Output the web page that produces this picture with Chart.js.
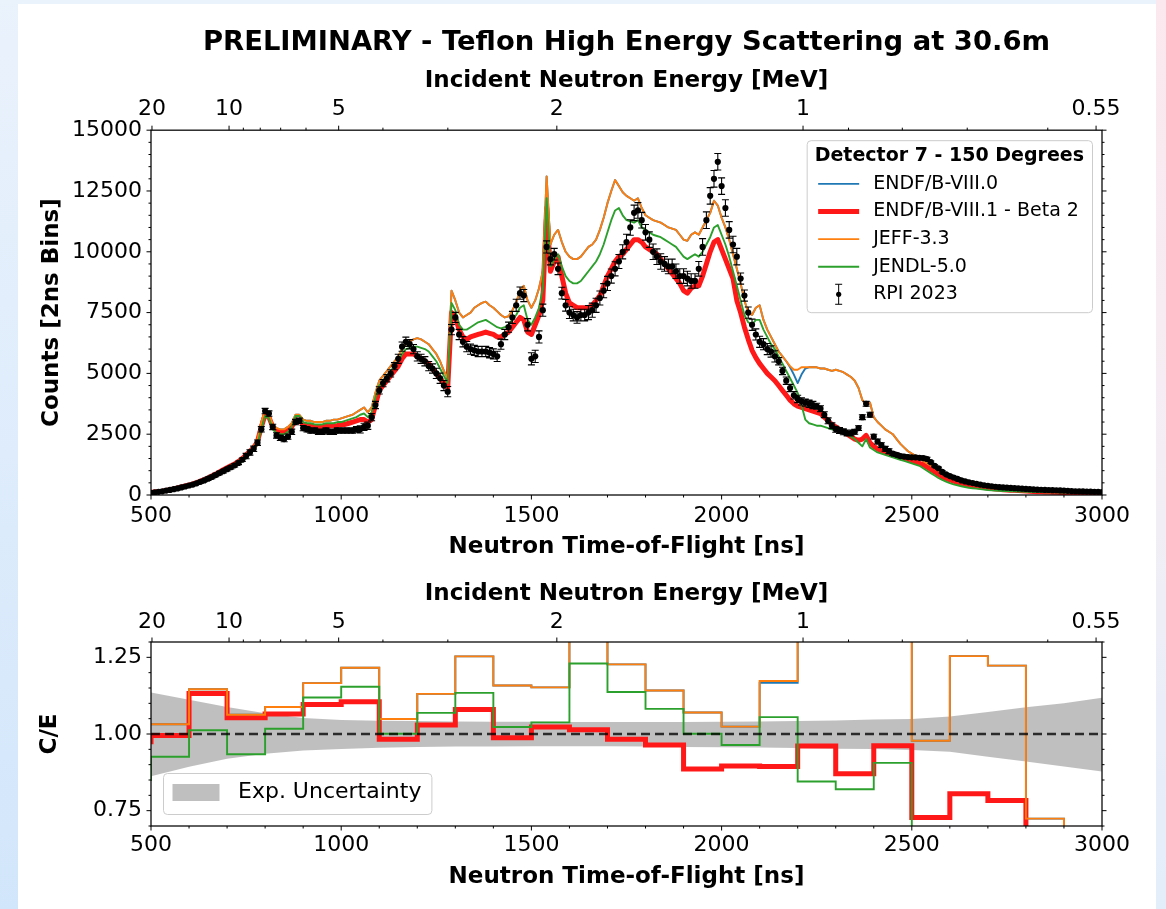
<!DOCTYPE html>
<html>
<head>
<meta charset="utf-8">
<title>Teflon High Energy Scattering at 30.6m</title>
<script src="https://cdn.jsdelivr.net/npm/chart.js@4.4.1/dist/chart.umd.min.js"></script>
<style>
  html, body { margin: 0; padding: 0; }
  body {
    width: 1166px; height: 909px; position: relative; overflow: hidden;
    background: linear-gradient(to bottom, #eaf2fc 0%, #d2e6fb 100%);
  }
  #edgeRight {
    position: absolute; left: 1156px; top: 0; width: 10px; height: 909px;
    background: linear-gradient(to bottom, #fbe8ee 0%, #f4eef4 50%, #e3eefb 100%);
  }
  #sheet { position: absolute; left: 18px; top: 4px; width: 1138px; height: 905px; background: #fff; }
  #countsChart { position: absolute; left: 0; top: 0; }
  #ratioChart { position: absolute; left: 0; top: 570px; }
</style>
</head>
<body>
<div id="edgeRight"></div>
<div id="sheet"></div>
<canvas id="countsChart" width="1166" height="570"></canvas>
<canvas id="ratioChart" width="1166" height="339"></canvas>
<script>
// ---------------------------------------------------------------
// Time-of-flight grid (ns) shared by the measured and calculated spectra
// ---------------------------------------------------------------
const tof = Array.from({ length: 251 }, (_, i) => 500 + 10 * i);

// RPI 2023 measured counts (2 ns bins), sampled every 10 ns
const rpi2023 = [
  90,110,130,150,180,210,240,270,310,350,
  390,430,480,540,600,670,740,820,900,980,
  1060,1140,1220,1320,1450,1600,1750,1900,2150,2700,
  3450,3350,2800,2450,2350,2300,2400,2600,3000,3050,
  2750,2700,2650,2650,2600,2600,2650,2600,2600,2650,
  2650,2650,2650,2650,2700,2700,2800,2850,3200,3700,
  4300,4600,4800,5000,5300,5600,6100,6300,6200,6000,
  5700,5600,5500,5300,5200,5000,4800,4500,4250,6800,
  7300,6600,6300,6100,6000,5950,5900,5900,5900,5850,
  5800,5700,6200,6600,6900,7300,7800,8300,8200,7000,
  5600,5700,6500,7600,10200,9700,9900,9300,8300,7800,
  7500,7400,7300,7400,7400,7500,7600,7800,8100,8400,
  8700,9000,9300,9600,10000,10400,11000,11600,11700,11300,
  10800,10500,10000,9800,9600,9500,9400,9400,9200,9000,
  9000,8900,8800,8800,9300,10200,11300,12300,13000,13700,
  12700,11800,10900,10300,9800,8900,8200,7500,7000,6600,
  6300,6200,6000,5900,5700,5500,5100,4700,4400,4100,
  3950,3850,3800,3750,3700,3650,3550,3300,3050,2850,
  2700,2650,2600,2550,2550,2600,2750,3200,3750,3300,
  2400,2200,2050,1900,1800,1700,1650,1600,1580,1560,
  1550,1550,1530,1520,1480,1350,1200,1100,950,850,
  780,720,660,600,560,520,490,460,430,400,
  380,360,340,320,310,300,290,280,270,260,
  250,240,230,220,215,210,205,200,195,190,
  180,170,160,155,150,145,140,135,130,125,
  120
];

// Absolute counting uncertainty of the measurement, one value per 100 ns from 500 ns
const rpiErrKnots = [30,50,70,110,110,110,150,190,210,210,250,240,290,320,300,340,230,150,120,100,70,45,30,25,20,20];

// Calculated spectra
const endfb80 = [
  110,130,150,170,200,230,260,300,340,380,
  420,470,520,580,640,710,790,870,960,1050,
  1130,1220,1300,1400,1520,1680,1830,2000,2300,3000,
  3500,3350,2900,2750,2700,2700,2800,2950,3300,3300,
  3100,3050,3050,3000,3000,3000,3050,3050,3100,3100,
  3150,3200,3250,3300,3400,3500,3600,3400,3600,4200,
  4700,4900,5100,5300,5500,5700,6000,6200,6300,6400,
  6450,6400,6300,6200,6000,5800,5500,5100,4800,8400,
  8000,7500,7300,7400,7500,7700,7800,7900,7950,7800,
  7700,7550,7400,7300,7350,7600,7900,8400,8600,8000,
  7700,8000,8500,9200,13100,10300,10700,10900,10400,10000,
  9800,9700,9700,9800,10000,10200,10300,10500,10900,11400,
  12000,12500,12950,12700,12450,12300,12200,12100,12200,11800,
  11500,11400,11300,11250,11200,11100,11000,10950,10900,10700,
  10500,10450,10700,10800,10700,11000,11300,11600,12100,11900,
  11400,11000,10500,9900,9300,8700,8000,7500,7400,7700,
  7800,7200,6800,6500,6200,5900,5700,5500,5250,4950,
  4600,4950,5200,5250,5250,5250,5200,5200,5150,5100,
  5150,5100,5050,4950,4850,4700,4400,3900,3700,3800,
  3200,3000,2850,2700,2600,2500,2300,2100,1950,1800,
  1700,1600,1500,1400,1300,1200,1100,1000,940,880,
  840,780,720,660,610,570,530,490,460,430,
  400,380,360,340,320,300,285,270,255,240,
  230,220,210,200,190,180,175,170,165,160,
  155,150,145,140,135,130,125,120,115,112,
  110
];

const endfb81 = [
  100,120,140,160,190,220,250,290,330,370,
  410,460,510,570,630,700,780,860,950,1040,
  1120,1200,1280,1380,1500,1650,1800,1950,2200,2800,
  3300,3200,2800,2650,2600,2600,2650,2800,3100,3050,
  2900,2850,2850,2800,2800,2800,2850,2850,2850,2850,
  2900,2900,2950,3000,3050,3100,3100,3000,3100,3700,
  4300,4500,4700,4900,5100,5300,5600,5800,5800,5800,
  5700,5600,5500,5400,5200,5000,4800,4600,4400,7500,
  7300,6800,6500,6400,6500,6550,6600,6650,6700,6650,
  6600,6500,6500,6600,6700,6900,7100,7300,7200,6700,
  6600,7000,7400,8000,11800,9200,9600,9800,9000,8300,
  7900,7800,7700,7700,7700,7700,7800,8000,8200,8600,
  9000,9300,9600,9800,9900,10100,10300,10500,10500,10400,
  10200,10100,10000,9900,9700,9500,9300,9100,8900,8700,
  8400,8300,8500,8600,8600,9000,9500,10000,10400,10500,
  10100,9700,9300,8900,8000,7500,6900,6400,5950,5650,
  5400,5200,5000,4850,4700,4500,4300,4100,3900,3750,
  3650,3600,3550,3500,3450,3400,3350,3200,3050,2900,
  2800,2700,2600,2500,2400,2300,2250,2300,2450,2150,
  2000,1900,1800,1750,1700,1650,1600,1550,1500,1450,
  1400,1350,1300,1250,1150,1050,950,850,750,680,
  620,570,520,480,440,410,380,350,330,310,
  290,270,250,235,220,210,200,190,180,170,
  160,150,140,135,130,125,120,115,110,105,
  100,98,96,94,92,90,88,86,84,82,
  80
];

const jeff33 = [
  110,130,150,170,200,230,260,300,340,380,
  420,470,520,580,640,710,790,870,960,1050,
  1130,1220,1300,1400,1520,1680,1830,2000,2300,3000,
  3500,3350,2900,2750,2700,2700,2800,2950,3300,3300,
  3100,3050,3050,3000,3000,3000,3050,3050,3100,3100,
  3150,3200,3250,3300,3400,3500,3600,3400,3600,4200,
  4700,4900,5100,5300,5500,5700,6000,6200,6300,6400,
  6450,6400,6300,6200,6000,5800,5500,5100,4800,8400,
  8000,7500,7300,7400,7500,7700,7800,7900,7950,7800,
  7700,7550,7400,7300,7350,7600,7900,8400,8600,8000,
  7700,8000,8500,9200,13100,10300,10700,10900,10400,10000,
  9800,9700,9700,9800,10000,10200,10300,10500,10900,11400,
  12000,12500,12950,12700,12450,12300,12200,12100,12200,11800,
  11500,11400,11300,11250,11200,11100,11000,10950,10900,10700,
  10500,10450,10700,10800,10700,11000,11300,11600,12100,11900,
  11400,11000,10500,9900,9300,8700,8000,7500,7400,7700,
  7800,7200,6800,6500,6200,5900,5700,5500,5300,5150,
  5150,5250,5250,5250,5250,5250,5200,5200,5150,5100,
  5150,5100,5050,4950,4850,4700,4400,3900,3700,3800,
  3200,3000,2850,2700,2600,2500,2300,2100,1950,1800,
  1700,1600,1500,1400,1300,1200,1100,1000,940,880,
  840,780,720,660,610,570,530,490,460,430,
  400,380,360,340,320,300,285,270,255,240,
  230,220,210,200,190,180,175,170,165,160,
  155,150,145,140,135,130,125,120,115,112,
  110
];

const jendl50 = [
  90,105,125,145,170,200,230,260,300,340,
  380,420,470,520,580,640,710,790,870,950,
  1020,1100,1180,1270,1380,1520,1680,1850,2100,2700,
  3250,3150,2700,2550,2500,2500,2600,2800,3250,3250,
  3000,2950,2950,2900,2900,2900,2950,2950,2950,3000,
  3000,3050,3100,3150,3200,3300,3350,3200,3400,4000,
  4500,4700,4900,5100,5300,5500,5800,6000,6050,6100,
  6100,6050,6000,5900,5700,5500,5200,4900,4600,7900,
  7600,7000,6800,6800,6900,7000,7100,7150,7200,7100,
  7000,6900,6850,6900,7000,7200,7400,7700,7800,7200,
  7000,7300,7700,8500,12200,9400,9700,9900,9400,9000,
  8800,8700,8700,8800,9000,9200,9400,9600,9900,10300,
  10800,11300,11700,11800,11500,11300,11250,11200,11300,11000,
  10900,10800,10700,10650,10600,10500,10400,10300,10200,10000,
  9800,9700,9800,9900,9800,10000,10300,10600,11000,11100,
  10700,10300,9800,9200,8600,8000,7400,7100,7000,7200,
  7200,6800,6500,6200,6000,5700,5400,5100,4800,4500,
  4200,3700,3100,2950,2900,2850,2850,2800,2750,2700,
  2650,2600,2550,2500,2400,2300,2150,2000,2300,1950,
  1850,1750,1700,1650,1600,1550,1500,1450,1400,1350,
  1300,1250,1200,1100,1000,900,800,700,620,550,
  490,440,400,360,330,300,280,260,240,220,
  200,190,180,170,165,160,155,150,145,140,
  135,130,125,120,118,115,112,110,108,105,
  102,100,98,97,96,95,94,93,92,91,
  90
];

// ---------------------------------------------------------------
// C/E in 100 ns bins: left bin edges (ns), the last entry closes the final bin
// ---------------------------------------------------------------
const ceEdges = [400,500,600,700,800,900,1000,1100,1200,1300,1400,1500,1600,1700,1800,1900,2000,2100,2200,2300,2400,2500,2600,2700,2800,2900,3000];
const ceEndfb80 = [1.032,1.032,1.146,1.063,1.088,1.166,1.216,1.049,1.131,1.253,1.158,1.152,1.34,1.227,1.142,1.070,1.024,1.167,1.38,1.55,1.36,0.978,1.254,1.223,0.724,0.65];
const ceEndfb81 = [0.975,0.995,1.132,1.053,1.065,1.096,1.105,0.983,1.029,1.080,0.988,1.023,1.014,0.983,0.964,0.886,0.896,0.894,0.961,0.870,0.962,0.728,0.805,0.783,0.62,0.60];
const ceJeff33  = [1.032,1.032,1.146,1.063,1.088,1.166,1.216,1.049,1.131,1.253,1.158,1.152,1.34,1.227,1.142,1.070,1.024,1.173,1.42,1.55,1.36,0.978,1.254,1.223,0.724,0.65];
const ceJendl50 = [0.85,0.926,1.012,0.934,1.017,1.119,1.154,1.001,1.069,1.134,1.023,1.038,1.230,1.137,1.082,1.001,0.964,1.055,0.845,0.820,0.906,0.62,0.60,0.60,0.58,0.58];

// Experimental uncertainty band, one value per 100 ns from 500 to 3000 ns
const bandTof   = [500,600,700,800,900,1000,1100,1200,1300,1400,1500,1600,1700,1800,1900,2000,2100,2200,2300,2400,2500,2600,2700,2800,2900,3000];
const bandUpper = [1.135,1.112,1.088,1.068,1.052,1.046,1.043,1.042,1.041,1.040,1.040,1.039,1.039,1.039,1.039,1.040,1.041,1.042,1.044,1.047,1.049,1.057,1.072,1.087,1.100,1.118];
const bandLower = [0.862,0.893,0.919,0.936,0.946,0.951,0.955,0.958,0.959,0.959,0.960,0.960,0.960,0.959,0.958,0.957,0.956,0.954,0.952,0.951,0.948,0.942,0.926,0.910,0.894,0.878];

// Secondary axis: incident neutron energy (MeV)
const energyMajor = [20, 10, 5, 2, 1, 0.55];
const energyMajorLabels = ['20', '10', '5', '2', '1', '0.55'];
const energyMinor = [9, 8, 7, 6, 4, 3, 0.9, 0.8, 0.7, 0.6];

// ---------------------------------------------------------------
const FLIGHT_PATH_M = 30.6;
const NEUTRON_MASS_MEV = 939.565;
const C_M_PER_NS = 0.299792458;
function tofForEnergy(eMeV) {
  const gamma = 1 + eMeV / NEUTRON_MASS_MEV;
  const beta = Math.sqrt(1 - 1 / (gamma * gamma));
  return FLIGHT_PATH_M / (beta * C_M_PER_NS);
}

const FONT = 'DejaVu Sans';
Chart.defaults.font.family = FONT;
Chart.defaults.color = '#000';

const BLUE = '#1f77b4', RED = 'rgb(255,24,24)', ORANGE = '#ff7f0e', GREEN = '#2ca02c';

const pts = (xs, ys) => xs.map((x, i) => ({ x: x, y: ys[i] }));
const stepPts = (vals) => ceEdges.map((x, i) => ({ x: x, y: vals[Math.min(i, vals.length - 1)] }));

// Frame and tick marks drawn through the chart's own scales
const axisFrame = {
  id: 'axisFrame',
  afterDatasetsDraw(chart, args, o) {
    const { ctx, chartArea: a } = chart;
    const xs = chart.scales.x, ys = chart.scales.y;
    ctx.save();
    ctx.strokeStyle = '#000';
    ctx.lineWidth = 1;
    const seg = (x1, y1, x2, y2) => { ctx.beginPath(); ctx.moveTo(x1, y1); ctx.lineTo(x2, y2); ctx.stroke(); };
    for (let t = xs.min; t <= xs.max + 1e-6; t += o.xMinorStep) {
      const x = xs.getPixelForValue(t);
      const major = Math.abs(t % o.xMajorStep) < 1e-6;
      seg(x, a.bottom, x, a.bottom + (major ? o.majorLen : o.minorLen));
    }
    const n = Math.round((ys.max - ys.min) / o.yMinorStep);
    for (let k = 0; k <= n; k++) {
      const v = ys.min + k * o.yMinorStep;
      const y = ys.getPixelForValue(v);
      const major = o.yMajor.some(m => Math.abs(m - v) < 1e-6);
      const L = major ? o.majorLen : o.minorLen;
      seg(a.left - L, y, a.left, y);
      seg(a.right, y, a.right + L, y);
    }
    const es = chart.scales.energy;
    energyMajor.forEach(e => { const x = es.getPixelForValue(tofForEnergy(e)); seg(x, a.top - o.majorLen, x, a.top); });
    energyMinor.forEach(e => { const x = es.getPixelForValue(tofForEnergy(e)); seg(x, a.top - o.minorLen, x, a.top); });
    ctx.lineWidth = 1.25;
    ctx.strokeRect(a.left, a.top, a.right - a.left, a.bottom - a.top);
    ctx.restore();
  }
};

// Vertical error bars with caps under the measured points
const errorBars = {
  id: 'errorBars',
  beforeDatasetDraw(chart, args, o) {
    if (args.index !== o.datasetIndex) return;
    const { ctx, chartArea: a } = chart;
    const xs = chart.scales.x, ys = chart.scales.y;
    ctx.save();
    ctx.beginPath();
    ctx.rect(a.left, a.top, a.right - a.left, a.bottom - a.top);
    ctx.clip();
    ctx.strokeStyle = '#000';
    ctx.lineWidth = 1.1;
    ctx.beginPath();
    chart.data.datasets[o.datasetIndex].data.forEach(p => {
      const e = o.errors[Math.round((p.x - 500) / 100)];
      const x = xs.getPixelForValue(p.x);
      const y1 = ys.getPixelForValue(p.y - e), y2 = ys.getPixelForValue(p.y + e);
      ctx.moveTo(x, y1); ctx.lineTo(x, y2);
      ctx.moveTo(x - o.cap, y1); ctx.lineTo(x + o.cap, y1);
      ctx.moveTo(x - o.cap, y2); ctx.lineTo(x + o.cap, y2);
    });
    ctx.stroke();
    ctx.restore();
  }
};

function roundRect(ctx, x, y, w, h, r) {
  ctx.beginPath();
  ctx.moveTo(x + r, y);
  ctx.lineTo(x + w - r, y); ctx.arcTo(x + w, y, x + w, y + r, r);
  ctx.lineTo(x + w, y + h - r); ctx.arcTo(x + w, y + h, x + w - r, y + h, r);
  ctx.lineTo(x + r, y + h); ctx.arcTo(x, y + h, x, y + h - r, r);
  ctx.lineTo(x, y + r); ctx.arcTo(x, y, x + r, y, r);
  ctx.closePath();
}

// Framed legend placed inside the plotting area
const boxLegend = {
  id: 'boxLegend',
  afterDraw(chart, args, o) {
    const { ctx, chartArea: a } = chart;
    const ds = chart.data.datasets;
    ctx.save();
    ctx.font = o.fontSize + 'px "' + FONT + '"';
    let maxW = 0;
    o.entries.forEach(en => { maxW = Math.max(maxW, ctx.measureText(ds[en.index].label).width); });
    let titleW = 0;
    if (o.title) { ctx.font = 'bold ' + o.fontSize + 'px "' + FONT + '"'; titleW = ctx.measureText(o.title).width; }
    const w = Math.max(titleW + 2 * o.titlePad, o.textX + maxW + o.rightPad);
    const h = o.height;
    const x0 = o.corner === 'topright' ? a.right - o.margin - w : a.left + o.margin;
    const y0 = o.corner === 'topright' ? a.top + o.margin : a.bottom - o.margin - h;
    roundRect(ctx, x0 + 0.5, y0 + 0.5, w, h, 4);
    ctx.fillStyle = 'rgba(255,255,255,0.8)';
    ctx.fill();
    ctx.strokeStyle = '#cccccc';
    ctx.lineWidth = 1;
    ctx.stroke();
    ctx.textBaseline = 'middle';
    if (o.title) {
      ctx.font = 'bold ' + o.fontSize + 'px "' + FONT + '"';
      ctx.fillStyle = '#000';
      ctx.textAlign = 'center';
      ctx.fillText(o.title, x0 + w / 2, y0 + o.titleY);
    }
    ctx.font = o.fontSize + 'px "' + FONT + '"';
    ctx.textAlign = 'left';
    o.entries.forEach((en, i) => {
      const d = ds[en.index];
      const cy = y0 + o.firstRowY + i * o.rowStep;
      const hx0 = x0 + o.handleX, hx1 = hx0 + o.handleW;
      if (en.kind === 'line') {
        ctx.strokeStyle = d.borderColor;
        ctx.lineWidth = d.borderWidth;
        ctx.beginPath(); ctx.moveTo(hx0, cy); ctx.lineTo(hx1, cy); ctx.stroke();
      } else if (en.kind === 'err') {
        const cx = (hx0 + hx1) / 2;
        ctx.strokeStyle = '#000'; ctx.lineWidth = 1;
        ctx.beginPath();
        ctx.moveTo(cx, cy - 10); ctx.lineTo(cx, cy + 10);
        ctx.moveTo(cx - 3.5, cy - 10); ctx.lineTo(cx + 3.5, cy - 10);
        ctx.moveTo(cx - 3.5, cy + 10); ctx.lineTo(cx + 3.5, cy + 10);
        ctx.stroke();
        ctx.fillStyle = '#000';
        ctx.beginPath(); ctx.arc(cx, cy, 2.6, 0, Math.PI * 2); ctx.fill();
      } else if (en.kind === 'patch') {
        ctx.fillStyle = d.backgroundColor;
        ctx.fillRect(hx0, cy - o.patchH / 2, o.handleW, o.patchH);
      }
      ctx.fillStyle = '#000';
      ctx.fillText(d.label, x0 + o.textX, cy);
    });
    ctx.restore();
  }
};

function energyAxis(height, titlePadTop, tickPad) {
  return {
    type: 'linear', position: 'top', min: 500, max: 3000, bounds: 'data',
    grid: { display: false, drawTicks: false, tickLength: 0 },
    border: { display: false },
    afterBuildTicks: s => { s.ticks = energyMajor.map(e => ({ value: tofForEnergy(e) })); },
    afterFit: s => { s.height = height; },
    ticks: {
      autoSkip: false, maxRotation: 0, padding: tickPad,
      font: { size: 22 },
      callback: (v, i) => energyMajorLabels[i]
    },
    title: {
      display: true, text: 'Incident Neutron Energy [MeV]',
      font: { size: 23, weight: 'bold' }, padding: { top: titlePadTop, bottom: 0 }
    }
  };
}

function tofAxis(height, tickPad, titlePadBottom) {
  return {
    type: 'linear', position: 'bottom', min: 500, max: 3000, bounds: 'data',
    grid: { display: false, drawTicks: false, tickLength: 0 },
    border: { display: false },
    afterFit: s => { s.height = height; },
    ticks: { stepSize: 500, autoSkip: false, maxRotation: 0, padding: tickPad, font: { size: 22 }, callback: v => String(v) },
    title: {
      display: true, text: 'Neutron Time-of-Flight [ns]',
      font: { size: 23, weight: 'bold' }, padding: { top: 0, bottom: titlePadBottom }
    }
  };
}

// ---------------------------------------------------------------
// Upper panel: counts versus time of flight
// ---------------------------------------------------------------
new Chart(document.getElementById('countsChart'), {
  type: 'line',
  data: {
    datasets: [
      { label: 'RPI 2023', data: pts(tof, rpi2023), showLine: false, pointRadius: 3.1, pointHoverRadius: 0,
        pointBackgroundColor: '#000', pointBorderWidth: 0, borderColor: '#000', order: 0 },
      { label: 'JENDL-5.0', data: pts(tof, jendl50), borderColor: GREEN, borderWidth: 1.9, pointRadius: 0, order: 1 },
      { label: 'JEFF-3.3', data: pts(tof, jeff33), borderColor: ORANGE, borderWidth: 1.9, pointRadius: 0, order: 2 },
      { label: 'ENDF/B-VIII.1 - Beta 2', data: pts(tof, endfb81), borderColor: RED, borderWidth: 5, pointRadius: 0, order: 3 },
      { label: 'ENDF/B-VIII.0', data: pts(tof, endfb80), borderColor: BLUE, borderWidth: 1.9, pointRadius: 0, order: 4 }
    ]
  },
  options: {
    responsive: false, animation: false, devicePixelRatio: 1, parsing: false,
    events: [],
    elements: { line: { borderJoinStyle: 'round', tension: 0 } },
    layout: { padding: { top: 0, left: 0, right: 64, bottom: 0 } },
    scales: {
      x: tofAxis(75, 7.8, 9.2),
      energy: energyAxis(70.8, 8, 7.2),
      y: {
        type: 'linear', position: 'left', min: 0, max: 15000,
        grid: { display: false, drawTicks: false, tickLength: 0 },
        border: { display: false },
        afterFit: s => { s.width = 151; },
        ticks: { stepSize: 2500, padding: 9, font: { size: 22 }, callback: v => String(v) },
        title: { display: true, text: 'Counts [2ns Bins]', font: { size: 23, weight: 'bold' }, padding: { top: 38.2, bottom: 0 } }
      }
    },
    plugins: {
      legend: { display: false },
      tooltip: { enabled: false },
      title: {
        display: true, fullSize: false,
        text: 'PRELIMINARY - Teflon High Energy Scattering at 30.6m',
        font: { size: 27.4, weight: 'bold' }, padding: { top: 26.5, bottom: 0 }
      },
      axisFrame: { xMinorStep: 100, xMajorStep: 500, yMinorStep: 500, yMajor: [0, 2500, 5000, 7500, 10000, 12500, 15000], majorLen: 4.5, minorLen: 2.5 },
      errorBars: { datasetIndex: 0, errors: rpiErrKnots, cap: 3.5 },
      boxLegend: {
        corner: 'topright', margin: 10, height: 172, fontSize: 19,
        title: 'Detector 7 - 150 Degrees', titlePad: 8, titleY: 15.5,
        firstRowY: 43.7, rowStep: 27.6, handleX: 11.5, handleW: 41, textX: 66.5, rightPad: 10,
        entries: [
          { index: 4, kind: 'line' },
          { index: 3, kind: 'line' },
          { index: 2, kind: 'line' },
          { index: 1, kind: 'line' },
          { index: 0, kind: 'err' }
        ]
      }
    }
  },
  plugins: [axisFrame, errorBars, boxLegend]
});

// ---------------------------------------------------------------
// Lower panel: calculated-to-experimental ratio
// ---------------------------------------------------------------
new Chart(document.getElementById('ratioChart'), {
  type: 'line',
  data: {
    datasets: [
      { label: 'band-lower', data: pts(bandTof, bandLower), borderWidth: 0, pointRadius: 0, fill: false, order: 20 },
      { label: 'Exp. Uncertainty', data: pts(bandTof, bandUpper), borderWidth: 0, pointRadius: 0,
        fill: '-1', backgroundColor: 'rgba(128,128,128,0.5)', order: 19 },
      { label: 'ENDF/B-VIII.0', data: stepPts(ceEndfb80), stepped: 'before', borderColor: BLUE, borderWidth: 1.9, pointRadius: 0, order: 5 },
      { label: 'ENDF/B-VIII.1 - Beta 2', data: stepPts(ceEndfb81), stepped: 'before', borderColor: RED, borderWidth: 5, pointRadius: 0, order: 4 },
      { label: 'JEFF-3.3', data: stepPts(ceJeff33), stepped: 'before', borderColor: ORANGE, borderWidth: 1.9, pointRadius: 0, order: 3 },
      { label: 'JENDL-5.0', data: stepPts(ceJendl50), stepped: 'before', borderColor: GREEN, borderWidth: 1.9, pointRadius: 0, order: 2 },
      { label: 'unity', data: [{ x: 500, y: 1 }, { x: 3000, y: 1 }], borderColor: 'rgba(0,0,0,0.78)', borderWidth: 2.3,
        borderDash: [9, 5], pointRadius: 0, order: 1 }
    ]
  },
  options: {
    responsive: false, animation: false, devicePixelRatio: 1, parsing: false,
    events: [],
    elements: { line: { borderJoinStyle: 'miter', tension: 0 } },
    layout: { padding: { top: 0, left: 0, right: 64, bottom: 0 } },
    scales: {
      x: tofAxis(83, 5.8, 18.2),
      energy: energyAxis(72, 10.2, 6.8),
      y: {
        type: 'linear', position: 'left', min: 0.7, max: 1.3,
        grid: { display: false, drawTicks: false, tickLength: 0 },
        border: { display: false },
        afterFit: s => { s.width = 151; },
        afterBuildTicks: s => { s.ticks = [0.75, 1.0, 1.25].map(v => ({ value: v })); },
        ticks: { padding: 9, font: { size: 22 }, callback: v => v.toFixed(2) },
        title: { display: true, text: 'C/E', font: { size: 23, weight: 'bold' }, padding: { top: 36.2, bottom: 0 } }
      }
    },
    plugins: {
      legend: { display: false },
      tooltip: { enabled: false },
      axisFrame: { xMinorStep: 100, xMajorStep: 500, yMinorStep: 0.05, yMajor: [0.75, 1.0, 1.25], majorLen: 4.5, minorLen: 2.5 },
      boxLegend: {
        corner: 'bottomleft', margin: 12, height: 41, fontSize: 22,
        title: null, titlePad: 0, titleY: 0,
        firstRowY: 19.5, rowStep: 0, handleX: 9.5, handleW: 47, textX: 75, rightPad: 10, patchH: 17,
        entries: [{ index: 1, kind: 'patch' }]
      }
    }
  },
  plugins: [axisFrame, boxLegend]
});
</script>
</body>
</html>
